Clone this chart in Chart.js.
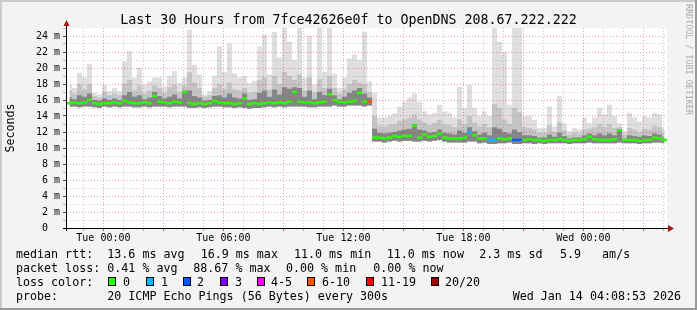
<!DOCTYPE html>
<html>
<head>
<meta charset="utf-8">
<script src="https://cdn.jsdelivr.net/npm/chart.js@4.4.1/dist/chart.umd.min.js"></script>
<style>
    html, body { margin: 0; padding: 0; background: #f3f3f3; }
    canvas { display: block; }
</style>
</head>
<body>
<canvas id="smoke" width="697" height="310"></canvas>
<script>
// 15 min columns, hours relative to Tue 00:00
const sampleHours = 0.25;
const startHour = -1.82;
const endHour = 28.18;

// median rtt, ms
const medianRtt = [
    15.6, 15.7, 15.6, 15.7, 16.0, 15.6, 15.5, 15.6, 15.6, 15.7,
    15.6, 15.9, 15.7, 15.6, 15.6, 15.7, 15.6, 16.5, 15.8, 15.7,
    15.6, 15.8, 15.7, 17.0, 15.6, 15.5, 15.6, 15.5, 15.6, 15.9,
    15.7, 15.6, 15.6, 15.5, 15.6, 16.2, 15.5, 15.6, 15.5, 15.6,
    15.7, 15.6, 15.7, 15.6, 15.8, 17.0, 15.8, 15.7, 15.7, 15.6,
    15.7, 15.8, 16.7, 16.0, 15.8, 15.7, 15.8, 15.9, 16.9, 15.8,
    15.8, 11.3, 11.3, 11.2, 11.3, 11.5, 11.4, 11.5, 11.5, 12.8,
    11.3, 11.7, 11.4, 11.5, 11.8, 11.3, 11.2, 11.2, 11.2, 11.3,
    12.0, 11.6, 11.2, 11.2, 11.0, 11.0, 11.2, 11.1, 11.2, 11.0,
    11.0, 11.0, 11.1, 11.0, 11.0, 10.9, 11.0, 11.0, 11.1, 11.0,
    10.9, 11.0, 11.0, 11.1, 11.4, 11.1, 11.0, 11.0, 11.0, 11.1,
    12.2, 11.0, 11.0, 11.0, 10.9, 11.0, 11.0, 11.3, 11.2, 11.0
];

// smoke: lowest ping
const smokeLow = [
    15.2, 15.2, 15.1, 15.2, 15.2, 15.1, 15.0, 15.2, 15.1, 15.2,
    15.1, 15.2, 15.2, 15.1, 15.1, 15.2, 15.1, 15.2, 15.2, 15.2,
    15.1, 15.2, 15.2, 15.2, 15.0, 15.0, 15.1, 15.0, 15.1, 15.2,
    15.2, 15.1, 15.1, 15.0, 15.1, 15.0, 14.9, 15.0, 15.0, 15.1,
    15.2, 15.1, 15.2, 15.1, 15.2, 15.2, 15.2, 15.2, 15.1, 15.1,
    15.2, 15.2, 15.2, 15.3, 15.2, 15.2, 15.3, 15.3, 15.3, 15.2,
    15.3, 10.8, 10.8, 10.7, 10.8, 10.9, 10.8, 10.9, 10.9, 10.8,
    10.8, 10.9, 10.8, 10.9, 11.0, 10.8, 10.7, 10.7, 10.7, 10.7,
    10.8, 10.8, 10.6, 10.7, 10.5, 10.5, 10.6, 10.6, 10.7, 10.5,
    10.5, 10.6, 10.6, 10.5, 10.6, 10.5, 10.6, 10.6, 10.6, 10.6,
    10.5, 10.6, 10.6, 10.6, 10.7, 10.6, 10.6, 10.6, 10.6, 10.6,
    10.7, 10.6, 10.6, 10.6, 10.5, 10.6, 10.6, 10.7, 10.7, 10.6
];

// smoke: dark band top
const smokeDark = [
    16.3, 16.1, 16.6, 16.4, 16.8, 16.0, 15.9, 16.2, 16.0, 16.2,
    16.0, 16.6, 17.0, 16.4, 16.6, 16.1, 16.3, 17.0, 16.5, 16.2,
    16.4, 16.7, 16.2, 17.2, 17.2, 16.5, 16.3, 15.9, 16.0, 16.5,
    16.6, 16.3, 16.8, 16.3, 16.2, 16.8, 16.0, 16.1, 16.9, 17.2,
    16.4, 17.3, 16.7, 17.6, 17.4, 17.6, 17.5, 16.4, 17.2, 16.1,
    17.0, 16.6, 17.4, 16.6, 16.1, 16.4, 16.9, 17.2, 17.5, 16.8,
    16.3, 12.4, 11.9, 11.8, 11.9, 12.0, 12.2, 12.3, 12.4, 13.0,
    12.3, 12.2, 11.9, 12.0, 12.3, 11.9, 11.8, 11.7, 12.2, 11.9,
    12.6, 12.1, 11.7, 11.9, 11.6, 12.6, 12.4, 12.0, 11.8, 12.3,
    12.0, 11.6, 11.6, 11.5, 11.3, 11.3, 11.7, 11.4, 11.9, 11.5,
    11.2, 11.3, 11.3, 11.6, 11.8, 11.6, 11.8, 11.6, 11.8, 11.6,
    12.3, 11.2, 11.6, 11.5, 11.4, 11.6, 11.5, 11.8, 11.7, 11.3
];

// smoke: middle band top
const smokeMid = [
    17.2, 16.8, 18.0, 17.3, 18.0, 16.5, 16.3, 17.0, 16.6, 16.8,
    16.6, 18.0, 18.5, 17.2, 17.8, 16.8, 17.2, 17.8, 17.5, 16.9,
    17.6, 17.9, 17.0, 17.8, 19.5, 18.2, 17.5, 16.4, 16.6, 17.5,
    18.0, 17.4, 18.2, 17.3, 17.2, 17.5, 16.9, 17.0, 18.5, 18.8,
    17.3, 19.0, 18.0, 19.5, 19.0, 18.5, 19.2, 17.2, 18.8, 16.9,
    18.6, 17.5, 19.0, 17.5, 16.8, 17.3, 18.0, 18.5, 18.2, 18.0,
    17.0, 14.0, 12.8, 12.7, 12.9, 13.0, 13.4, 13.6, 13.8, 14.2,
    13.6, 13.2, 12.9, 13.1, 13.5, 13.0, 12.9, 12.6, 13.6, 13.0,
    14.0, 13.2, 12.7, 13.0, 12.6, 15.5, 15.0, 13.6, 13.0, 15.0,
    14.5, 12.6, 12.5, 12.3, 11.9, 11.9, 12.8, 12.0, 13.2, 12.2,
    11.7, 11.9, 11.8, 12.3, 12.4, 12.6, 13.0, 12.6, 13.0, 12.5,
    12.6, 11.7, 12.5, 12.3, 12.0, 12.4, 12.3, 12.8, 12.6, 11.9
];

// smoke: highest ping
const smokeTop = [
    17.9, 17.5, 19.4, 18.8, 20.5, 16.9, 16.7, 17.9, 17.1, 17.5,
    17.1, 20.8, 22.1, 18.8, 20.0, 17.9, 18.3, 18.8, 18.8, 17.7,
    19.0, 19.6, 18.1, 18.8, 24.8, 20.4, 19.2, 16.7, 17.1, 19.0,
    22.7, 19.5, 23.1, 19.3, 18.8, 19.0, 18.1, 18.4, 22.7, 24.2,
    19.2, 24.5, 21.3, 25.0, 23.3, 21.0, 25.0, 18.8, 24.0, 17.9,
    25.0, 19.5, 25.0, 19.3, 17.5, 18.8, 21.2, 21.7, 21.0, 24.5,
    18.3, 16.9, 13.8, 13.8, 14.0, 14.3, 15.2, 15.8, 16.3, 16.8,
    15.8, 14.6, 14.2, 14.4, 15.4, 14.6, 14.4, 13.8, 17.7, 15.0,
    17.9, 15.0, 14.0, 14.6, 14.0, 25.0, 23.3, 22.0, 15.4, 25.0,
    25.0, 14.0, 14.0, 13.5, 12.5, 12.5, 15.2, 12.7, 16.5, 13.1,
    12.1, 12.5, 12.3, 13.8, 13.1, 13.8, 15.0, 14.2, 15.4, 14.0,
    13.1, 12.1, 14.4, 13.8, 13.3, 14.0, 13.8, 14.4, 14.2, 12.5
];

// lost pings out of 20
const lossCount = [
    0, 0, 0, 0, 0, 0, 0, 0, 0, 0,
    0, 0, 0, 0, 0, 0, 0, 0, 0, 0,
    0, 0, 0, 0, 0, 0, 0, 0, 0, 0,
    0, 0, 0, 0, 0, 0, 0, 0, 0, 0,
    0, 0, 0, 0, 0, 0, 0, 0, 0, 0,
    0, 0, 0, 0, 0, 0, 0, 0, 0, 0,
    8, 0, 0, 0, 0, 0, 0, 0, 0, 0,
    0, 0, 0, 0, 0, 0, 0, 0, 0, 0,
    1, 0, 0, 0, 1, 1, 0, 0, 0, 2,
    2, 0, 0, 0, 0, 0, 0, 0, 0, 0,
    0, 0, 0, 0, 0, 0, 0, 0, 0, 0,
    0, 0, 0, 0, 0, 0, 0, 0, 0, 0
];

const xTickHours = [0, 6, 12, 18, 24];
const xTickLabels = ['Tue 00:00', 'Tue 06:00', 'Tue 12:00', 'Tue 18:00', 'Wed 00:00'];
const yTickValues = [0, 2, 4, 6, 8, 10, 12, 14, 16, 18, 20, 22, 24];

const lossLabels = ['0', '1', '2', '3', '4-5', '6-10', '11-19', '20/20'];
const lossColors = ['#26ff00', '#00b8ff', '#0059ff', '#7e00ff', '#ff00ff', '#ff5500', '#ff0000', '#a10000'];
const lossUpper = [0, 1, 2, 3, 5, 10, 19, 20];

const titleText = 'Last 30 Hours from 7fce42626e0f to OpenDNS 208.67.222.222';
const rttStats = ['13.6 ms avg', '16.9 ms max', '11.0 ms min', '11.0 ms now', '2.3 ms sd', '5.9   am/s'];
const lossStats = ['0.41 % avg', '88.67 % max', '0.00 % min', '0.00 % now'];
const probeText = '20 ICMP Echo Pings (56 Bytes) every 300s';
const stampText = 'Wed Jan 14 04:08:53 2026';
const watermark = 'RRDTOOL / TOBI OETIKER';

const MONO = '"DejaVu Sans Mono", monospace';
const gridMinor = 'rgba(140,140,140,0.45)';
const gridMajor = 'rgba(222,48,48,0.45)';

// цвет потерь
function lossColorFor(n) {
    for (let k = 0; k < lossUpper.length; k++) {
        if (n <= lossUpper[k]) return lossColors[k];
    }
    return lossColors[lossColors.length - 1];
}

function toPoints(values) {
    return values.map((v, i) => ({ x: startHour + (i + 0.5) * sampleHours, y: v }));
}

function hourGrid() {
    const out = [];
    for (let h = Math.ceil(startHour); h <= Math.floor(endHour); h++) out.push({ value: h });
    return out;
}

function meterGrid() {
    const out = [];
    for (let v = 0; v <= 25; v++) out.push({ value: v });
    return out;
}

function yLabel(v) {
    if (!yTickValues.includes(v)) return '';
    return v === 0 ? '0  ' : v + ' m';
}

// legend, title, axes, frame
const rrdFrame = {
    id: 'rrdFrame',
    beforeDraw(chart) {
        const { ctx, chartArea: a, width: w, height: h } = chart;
        ctx.save();
        ctx.fillStyle = '#f3f3f3';
        ctx.fillRect(0, 0, w, h);
        ctx.fillStyle = '#cbcbcb';
        ctx.fillRect(0, 0, w, 2);
        ctx.fillRect(0, 0, 2, h);
        ctx.fillStyle = '#999999';
        ctx.fillRect(0, h - 2, w, 2);
        ctx.fillRect(w - 2, 0, 2, h);
        ctx.fillStyle = '#ffffff';
        ctx.fillRect(a.left, a.top, a.right - a.left, a.bottom - a.top);
        ctx.restore();
    },
    afterDraw(chart) {
        const { ctx, chartArea: a } = chart;
        ctx.save();

        // оси
        ctx.strokeStyle = '#000';
        ctx.lineWidth = 1;
        ctx.beginPath();
        ctx.moveTo(a.left - 0.5, a.bottom + 3);
        ctx.lineTo(a.left - 0.5, a.top - 2);
        ctx.moveTo(a.left - 4, a.bottom + 0.5);
        ctx.lineTo(a.right + 2, a.bottom + 0.5);
        ctx.stroke();

        ctx.fillStyle = '#a01818';
        ctx.beginPath();
        ctx.moveTo(a.left - 3.5, a.top - 2);
        ctx.lineTo(a.left + 2.5, a.top - 2);
        ctx.lineTo(a.left - 0.5, a.top - 8);
        ctx.closePath();
        ctx.fill();
        ctx.beginPath();
        ctx.moveTo(a.right + 1, a.bottom - 3);
        ctx.lineTo(a.right + 1, a.bottom + 4);
        ctx.lineTo(a.right + 7, a.bottom + 0.5);
        ctx.closePath();
        ctx.fill();

        // title
        ctx.fillStyle = '#000';
        ctx.font = '13.3px ' + MONO;
        ctx.textAlign = 'center';
        ctx.textBaseline = 'alphabetic';
        ctx.fillText(titleText, 348.5, 24);

        // watermark
        ctx.save();
        ctx.translate(688, 4);
        ctx.rotate(Math.PI / 2);
        ctx.font = '8.4px ' + MONO;
        ctx.fillStyle = '#aaaaaa';
        ctx.textAlign = 'left';
        ctx.textBaseline = 'middle';
        ctx.fillText(watermark, 0, 0);
        ctx.restore();

        // legend
        ctx.font = '11.67px ' + MONO;
        ctx.textAlign = 'left';
        ctx.fillStyle = '#000';
        ctx.fillText('median rtt:', 16, 258);
        [107.3, 200.7, 294, 386.7, 479.3, 560].forEach((x, k) => ctx.fillText(rttStats[k], x, 258));
        ctx.fillText('packet loss:', 16, 272);
        [107.3, 193.3, 286, 373.3].forEach((x, k) => ctx.fillText(lossStats[k], x, 272));
        ctx.fillText('loss color:', 16, 286);
        const boxX = [108, 146, 183, 220, 257, 307, 366, 431];
        const labX = [123, 161, 197, 235, 271, 322, 381, 445];
        lossLabels.forEach((lab, k) => {
            ctx.fillStyle = lossColors[k];
            ctx.fillRect(boxX[k], 278, 8, 8);
            ctx.strokeStyle = '#000';
            ctx.strokeRect(boxX[k] + 0.5, 277.5, 7, 8);
            ctx.fillStyle = '#000';
            ctx.fillText(lab, labX[k], 286);
        });
        ctx.fillText('probe:', 16, 300);
        ctx.fillText(probeText, 107.3, 300);
        ctx.fillText(stampText, 512.7, 300);

        ctx.restore();
    }
};

const chart = new Chart(document.getElementById('smoke'), {
    type: 'line',
    data: {
        datasets: [
            { data: toPoints(smokeLow), borderWidth: 0, borderColor: 'transparent', fill: false, order: 10 },
            { data: toPoints(smokeTop), borderWidth: 0, borderColor: 'transparent', backgroundColor: '#dfdfdf', fill: 0, order: 9 },
            { data: toPoints(smokeMid), borderWidth: 0, borderColor: 'transparent', backgroundColor: '#c4c4c4', fill: 0, order: 8 },
            { data: toPoints(smokeDark), borderWidth: 0, borderColor: 'transparent', backgroundColor: '#858585', fill: 0, order: 7 },
            {
                // медиана: короткие штрихи по цвету потерь, без вертикалей
                data: toPoints(medianRtt),
                showLine: false,
                fill: false,
                order: 0,
                pointStyle: 'line',
                pointRadius: 2.6,
                pointBorderWidth: 2.5,
                pointBorderColor: c => lossColorFor(lossCount[c.dataIndex])
            }
        ]
    },
    options: {
        responsive: false,
        animation: false,
        devicePixelRatio: 1,
        events: [],
        layout: { padding: { top: 28, right: 30, bottom: 0, left: 0 } },
        elements: {
            point: { radius: 0 },
            line: { stepped: 'middle', tension: 0 }
        },
        plugins: {
            legend: { display: false },
            tooltip: { enabled: false }
        },
        scales: {
            x: {
                type: 'linear',
                min: startHour,
                max: endHour,
                afterBuildTicks: axis => { axis.ticks = hourGrid(); },
                afterFit: axis => { axis.height = 82; },
                ticks: {
                    autoSkip: false,
                    maxRotation: 0,
                    padding: 1,
                    color: '#000',
                    font: { family: MONO, size: 10 },
                    callback: v => {
                        const k = xTickHours.indexOf(v);
                        return k >= 0 ? xTickLabels[k] : '';
                    }
                },
                grid: {
                    z: 1,
                    tickLength: 3,
                    color: c => (c.tick && c.tick.value % 3 === 0) ? gridMajor : gridMinor,
                    tickColor: c => (c.tick && c.tick.value % 3 === 0) ? 'rgba(222,48,48,0.8)' : 'rgba(120,120,120,0.6)'
                },
                border: { display: false, dash: [1, 2] }
            },
            y: {
                min: 0,
                max: 25,
                afterBuildTicks: axis => { axis.ticks = meterGrid(); },
                afterFit: axis => { axis.width = 67; },
                ticks: {
                    autoSkip: false,
                    padding: 3,
                    color: '#000',
                    font: { family: MONO, size: 10 },
                    callback: v => yLabel(v)
                },
                grid: {
                    z: 1,
                    tickLength: 4,
                    color: c => {
                        if (!c.tick || c.tick.value === 25) return 'transparent';
                        return c.tick.value % 2 === 0 ? gridMajor : gridMinor;
                    },
                    tickColor: c => (c.tick && c.tick.value % 2 === 0 && c.tick.value < 25) ? '#444' : 'rgba(120,120,120,0.5)'
                },
                border: { display: false, dash: [1, 2] },
                title: {
                    display: true,
                    text: 'Seconds',
                    color: '#000',
                    font: { family: MONO, size: 11.67 }
                }
            }
        }
    },
    plugins: [rrdFrame]
});
</script>
</body>
</html>
